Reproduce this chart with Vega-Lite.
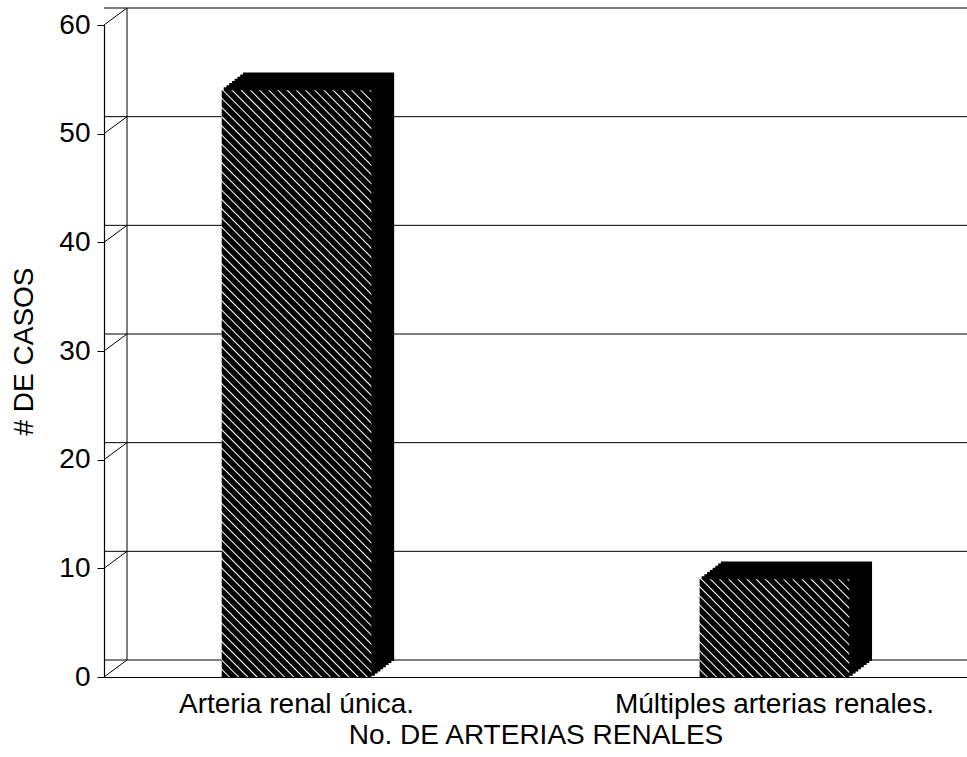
{
"$schema":"https://vega.github.io/schema/vega-lite/v6.json",
"width":863,"height":652,
"autosize":{"type":"none"},
"padding":{"left":104,"top":25,"right":0,"bottom":80},
"background":"white",
"config":{"view":{"stroke":null},"font":"Liberation Sans",
"axis":{"labelFont":"Liberation Sans","titleFont":"Liberation Sans","labelColor":"#000","titleColor":"#000","domainColor":"#000","tickColor":"#000","titleFontWeight":"normal","labelFontSize":28,"titleFontSize":28,"labelLimit":500}},
"datasets":{
"bars":[{"categoria":"Arteria renal única.","casos":54},{"categoria":"Múltiples arterias renales.","casos":9}],
"ticks":[{"v":0},{"v":10},{"v":20},{"v":30},{"v":40},{"v":50},{"v":60}]
},
"layer":[
{"data":{"name":"ticks"},"mark":{"type":"rule","color":"#000","strokeWidth":1,"xOffset":23,"yOffset":-17},
 "encoding":{"y":{"field":"v","type":"quantitative","scale":{"domain":[0,60],"nice":false},
   "axis":{"title":"# DE CASOS","values":[0,10,20,30,40,50,60],"grid":false,"tickSize":7,"labelPadding":7,"titlePadding":20,"domainWidth":1.2}}}},
{"data":{"name":"ticks"},"mark":{"type":"rule","color":"#000","strokeWidth":1,"x2Offset":23,"y2Offset":-17},
 "encoding":{"x":{"value":0},"x2":{"value":0},"y":{"field":"v","type":"quantitative",
   "axis":{"title":"# DE CASOS","values":[0,10,20,30,40,50,60],"grid":false,"tickSize":7,"labelPadding":7,"titlePadding":20,"domainWidth":1.2}},"y2":{"field":"v"}}},
{"data":{"name":"ticks"},"transform":[{"filter":"datum.v == 0"}],"mark":{"type":"rule","color":"#000","strokeWidth":1,"xOffset":23,"yOffset":-17,"y2Offset":-17},
 "encoding":{"x":{"value":0},"y":{"field":"v","type":"quantitative",
   "axis":{"title":"# DE CASOS","values":[0,10,20,30,40,50,60],"grid":false,"tickSize":7,"labelPadding":7,"titlePadding":20,"domainWidth":1.2}},"y2":{"datum":60}}},
{"data":{"name":"bars"},
 "encoding":{
  "x":{"field":"categoria","type":"nominal","sort":null,"scale":{"paddingInner":0.6868,"paddingOuter":0.2463},
   "axis":{"title":"No. DE ARTERIAS RENALES","labelAngle":0,"ticks":false,"tickSize":0,"labelPadding":13,"titlePadding":3,"domainWidth":1.2}},
  "y":{"field":"casos","type":"quantitative","scale":{"domain":[0,60],"nice":false},
   "axis":{"title":"# DE CASOS","values":[0,10,20,30,40,50,60],"grid":false,"tickSize":7,"labelPadding":7,"titlePadding":20,"domainWidth":1.2}}
 },
 "layer":[
  {"mark":{"type":"bar","fill":"#000","stroke":"#000","strokeWidth":1.5,"xOffset":22,"yOffset":-17}},
  {"mark":{"type":"bar","fill":"#000","stroke":"#000","strokeWidth":1.5,"xOffset":19.25,"yOffset":-14.875}},
  {"mark":{"type":"bar","fill":"#000","stroke":"#000","strokeWidth":1.5,"xOffset":16.5,"yOffset":-12.75}},
  {"mark":{"type":"bar","fill":"#000","stroke":"#000","strokeWidth":1.5,"xOffset":13.75,"yOffset":-10.625}},
  {"mark":{"type":"bar","fill":"#000","stroke":"#000","strokeWidth":1.5,"xOffset":11,"yOffset":-8.5}},
  {"mark":{"type":"bar","fill":"#000","stroke":"#000","strokeWidth":1.5,"xOffset":8.25,"yOffset":-6.375}},
  {"mark":{"type":"bar","fill":"#000","stroke":"#000","strokeWidth":1.5,"xOffset":5.5,"yOffset":-4.25}},
  {"mark":{"type":"bar","fill":"#000","stroke":"#000","strokeWidth":1.5,"xOffset":2.75,"yOffset":-2.125}},
  {"transform":[{"filter":{"field":"categoria","equal":"Arteria renal única."}}],
   "mark":{"type":"bar","fill":{"gradient":"linear","x1":0,"y1":1,"x2":0.3013,"y2":-0.1786,"stops":[
{"offset":0,"color":"#000"},{"offset":0.0085,"color":"#000"},{"offset":0.0105,"color":"#fff"},
{"offset":0.0125,"color":"#000"},{"offset":0.021,"color":"#000"},{"offset":0.023,"color":"#fff"},
{"offset":0.025,"color":"#000"},{"offset":0.0335,"color":"#000"},{"offset":0.0355,"color":"#fff"},
{"offset":0.0375,"color":"#000"},{"offset":0.046,"color":"#000"},{"offset":0.048,"color":"#fff"},
{"offset":0.05,"color":"#000"},{"offset":0.0585,"color":"#000"},{"offset":0.0605,"color":"#fff"},
{"offset":0.0625,"color":"#000"},{"offset":0.071,"color":"#000"},{"offset":0.073,"color":"#fff"},
{"offset":0.075,"color":"#000"},{"offset":0.0835,"color":"#000"},{"offset":0.0855,"color":"#fff"},
{"offset":0.0875,"color":"#000"},{"offset":0.096,"color":"#000"},{"offset":0.098,"color":"#fff"},
{"offset":0.1,"color":"#000"},{"offset":0.1085,"color":"#000"},{"offset":0.1105,"color":"#fff"},
{"offset":0.1125,"color":"#000"},{"offset":0.121,"color":"#000"},{"offset":0.123,"color":"#fff"},
{"offset":0.125,"color":"#000"},{"offset":0.1335,"color":"#000"},{"offset":0.1355,"color":"#fff"},
{"offset":0.1375,"color":"#000"},{"offset":0.146,"color":"#000"},{"offset":0.148,"color":"#fff"},
{"offset":0.15,"color":"#000"},{"offset":0.1585,"color":"#000"},{"offset":0.1605,"color":"#fff"},
{"offset":0.1625,"color":"#000"},{"offset":0.171,"color":"#000"},{"offset":0.173,"color":"#fff"},
{"offset":0.175,"color":"#000"},{"offset":0.1835,"color":"#000"},{"offset":0.1855,"color":"#fff"},
{"offset":0.1875,"color":"#000"},{"offset":0.196,"color":"#000"},{"offset":0.198,"color":"#fff"},
{"offset":0.2,"color":"#000"},{"offset":0.2085,"color":"#000"},{"offset":0.2105,"color":"#fff"},
{"offset":0.2125,"color":"#000"},{"offset":0.221,"color":"#000"},{"offset":0.223,"color":"#fff"},
{"offset":0.225,"color":"#000"},{"offset":0.2335,"color":"#000"},{"offset":0.2355,"color":"#fff"},
{"offset":0.2375,"color":"#000"},{"offset":0.246,"color":"#000"},{"offset":0.248,"color":"#fff"},
{"offset":0.25,"color":"#000"},{"offset":0.2585,"color":"#000"},{"offset":0.2605,"color":"#fff"},
{"offset":0.2625,"color":"#000"},{"offset":0.271,"color":"#000"},{"offset":0.273,"color":"#fff"},
{"offset":0.275,"color":"#000"},{"offset":0.2835,"color":"#000"},{"offset":0.2855,"color":"#fff"},
{"offset":0.2875,"color":"#000"},{"offset":0.296,"color":"#000"},{"offset":0.298,"color":"#fff"},
{"offset":0.3,"color":"#000"},{"offset":0.3085,"color":"#000"},{"offset":0.3105,"color":"#fff"},
{"offset":0.3125,"color":"#000"},{"offset":0.321,"color":"#000"},{"offset":0.323,"color":"#fff"},
{"offset":0.325,"color":"#000"},{"offset":0.3335,"color":"#000"},{"offset":0.3355,"color":"#fff"},
{"offset":0.3375,"color":"#000"},{"offset":0.346,"color":"#000"},{"offset":0.348,"color":"#fff"},
{"offset":0.35,"color":"#000"},{"offset":0.3585,"color":"#000"},{"offset":0.3605,"color":"#fff"},
{"offset":0.3625,"color":"#000"},{"offset":0.371,"color":"#000"},{"offset":0.373,"color":"#fff"},
{"offset":0.375,"color":"#000"},{"offset":0.3835,"color":"#000"},{"offset":0.3855,"color":"#fff"},
{"offset":0.3875,"color":"#000"},{"offset":0.396,"color":"#000"},{"offset":0.398,"color":"#fff"},
{"offset":0.4,"color":"#000"},{"offset":0.4085,"color":"#000"},{"offset":0.4105,"color":"#fff"},
{"offset":0.4125,"color":"#000"},{"offset":0.421,"color":"#000"},{"offset":0.423,"color":"#fff"},
{"offset":0.425,"color":"#000"},{"offset":0.4335,"color":"#000"},{"offset":0.4355,"color":"#fff"},
{"offset":0.4375,"color":"#000"},{"offset":0.446,"color":"#000"},{"offset":0.448,"color":"#fff"},
{"offset":0.45,"color":"#000"},{"offset":0.4585,"color":"#000"},{"offset":0.4605,"color":"#fff"},
{"offset":0.4625,"color":"#000"},{"offset":0.471,"color":"#000"},{"offset":0.473,"color":"#fff"},
{"offset":0.475,"color":"#000"},{"offset":0.4835,"color":"#000"},{"offset":0.4855,"color":"#fff"},
{"offset":0.4875,"color":"#000"},{"offset":0.496,"color":"#000"},{"offset":0.498,"color":"#fff"},
{"offset":0.5,"color":"#000"},{"offset":0.5085,"color":"#000"},{"offset":0.5105,"color":"#fff"},
{"offset":0.5125,"color":"#000"},{"offset":0.521,"color":"#000"},{"offset":0.523,"color":"#fff"},
{"offset":0.525,"color":"#000"},{"offset":0.5335,"color":"#000"},{"offset":0.5355,"color":"#fff"},
{"offset":0.5375,"color":"#000"},{"offset":0.546,"color":"#000"},{"offset":0.548,"color":"#fff"},
{"offset":0.55,"color":"#000"},{"offset":0.5585,"color":"#000"},{"offset":0.5605,"color":"#fff"},
{"offset":0.5625,"color":"#000"},{"offset":0.571,"color":"#000"},{"offset":0.573,"color":"#fff"},
{"offset":0.575,"color":"#000"},{"offset":0.5835,"color":"#000"},{"offset":0.5855,"color":"#fff"},
{"offset":0.5875,"color":"#000"},{"offset":0.596,"color":"#000"},{"offset":0.598,"color":"#fff"},
{"offset":0.6,"color":"#000"},{"offset":0.6085,"color":"#000"},{"offset":0.6105,"color":"#fff"},
{"offset":0.6125,"color":"#000"},{"offset":0.621,"color":"#000"},{"offset":0.623,"color":"#fff"},
{"offset":0.625,"color":"#000"},{"offset":0.6335,"color":"#000"},{"offset":0.6355,"color":"#fff"},
{"offset":0.6375,"color":"#000"},{"offset":0.646,"color":"#000"},{"offset":0.648,"color":"#fff"},
{"offset":0.65,"color":"#000"},{"offset":0.6585,"color":"#000"},{"offset":0.6605,"color":"#fff"},
{"offset":0.6625,"color":"#000"},{"offset":0.671,"color":"#000"},{"offset":0.673,"color":"#fff"},
{"offset":0.675,"color":"#000"},{"offset":0.6835,"color":"#000"},{"offset":0.6855,"color":"#fff"},
{"offset":0.6875,"color":"#000"},{"offset":0.696,"color":"#000"},{"offset":0.698,"color":"#fff"},
{"offset":0.7,"color":"#000"},{"offset":0.7085,"color":"#000"},{"offset":0.7105,"color":"#fff"},
{"offset":0.7125,"color":"#000"},{"offset":0.721,"color":"#000"},{"offset":0.723,"color":"#fff"},
{"offset":0.725,"color":"#000"},{"offset":0.7335,"color":"#000"},{"offset":0.7355,"color":"#fff"},
{"offset":0.7375,"color":"#000"},{"offset":0.746,"color":"#000"},{"offset":0.748,"color":"#fff"},
{"offset":0.75,"color":"#000"},{"offset":0.7585,"color":"#000"},{"offset":0.7605,"color":"#fff"},
{"offset":0.7625,"color":"#000"},{"offset":0.771,"color":"#000"},{"offset":0.773,"color":"#fff"},
{"offset":0.775,"color":"#000"},{"offset":0.7835,"color":"#000"},{"offset":0.7855,"color":"#fff"},
{"offset":0.7875,"color":"#000"},{"offset":0.796,"color":"#000"},{"offset":0.798,"color":"#fff"},
{"offset":0.8,"color":"#000"},{"offset":0.8085,"color":"#000"},{"offset":0.8105,"color":"#fff"},
{"offset":0.8125,"color":"#000"},{"offset":0.821,"color":"#000"},{"offset":0.823,"color":"#fff"},
{"offset":0.825,"color":"#000"},{"offset":0.8335,"color":"#000"},{"offset":0.8355,"color":"#fff"},
{"offset":0.8375,"color":"#000"},{"offset":0.846,"color":"#000"},{"offset":0.848,"color":"#fff"},
{"offset":0.85,"color":"#000"},{"offset":0.8585,"color":"#000"},{"offset":0.8605,"color":"#fff"},
{"offset":0.8625,"color":"#000"},{"offset":0.871,"color":"#000"},{"offset":0.873,"color":"#fff"},
{"offset":0.875,"color":"#000"},{"offset":0.8835,"color":"#000"},{"offset":0.8855,"color":"#fff"},
{"offset":0.8875,"color":"#000"},{"offset":0.896,"color":"#000"},{"offset":0.898,"color":"#fff"},
{"offset":0.9,"color":"#000"},{"offset":0.9085,"color":"#000"},{"offset":0.9105,"color":"#fff"},
{"offset":0.9125,"color":"#000"},{"offset":0.921,"color":"#000"},{"offset":0.923,"color":"#fff"},
{"offset":0.925,"color":"#000"},{"offset":0.9335,"color":"#000"},{"offset":0.9355,"color":"#fff"},
{"offset":0.9375,"color":"#000"},{"offset":0.946,"color":"#000"},{"offset":0.948,"color":"#fff"},
{"offset":0.95,"color":"#000"},{"offset":0.9585,"color":"#000"},{"offset":0.9605,"color":"#fff"},
{"offset":0.9625,"color":"#000"},{"offset":0.971,"color":"#000"},{"offset":0.973,"color":"#fff"},
{"offset":0.975,"color":"#000"},{"offset":0.9835,"color":"#000"},{"offset":0.9855,"color":"#fff"},
{"offset":0.9875,"color":"#000"},{"offset":0.996,"color":"#000"},{"offset":0.998,"color":"#fff"},
{"offset":1,"color":"#000"}]}}},
  {"transform":[{"filter":{"field":"categoria","equal":"Múltiples arterias renales."}}],
   "mark":{"type":"bar","fill":{"gradient":"linear","x1":0,"y1":1,"x2":1.1592,"y2":0.2442,"stops":[
{"offset":0,"color":"#000"},{"offset":0.0252,"color":"#000"},{"offset":0.0311,"color":"#fff"},
{"offset":0.03704,"color":"#000"},{"offset":0.0622,"color":"#000"},{"offset":0.0681,"color":"#fff"},
{"offset":0.07407,"color":"#000"},{"offset":0.0993,"color":"#000"},{"offset":0.1052,"color":"#fff"},
{"offset":0.11111,"color":"#000"},{"offset":0.1363,"color":"#000"},{"offset":0.1422,"color":"#fff"},
{"offset":0.14815,"color":"#000"},{"offset":0.1733,"color":"#000"},{"offset":0.1792,"color":"#fff"},
{"offset":0.18519,"color":"#000"},{"offset":0.2104,"color":"#000"},{"offset":0.2163,"color":"#fff"},
{"offset":0.22222,"color":"#000"},{"offset":0.2474,"color":"#000"},{"offset":0.2533,"color":"#fff"},
{"offset":0.25926,"color":"#000"},{"offset":0.2845,"color":"#000"},{"offset":0.2904,"color":"#fff"},
{"offset":0.2963,"color":"#000"},{"offset":0.3215,"color":"#000"},{"offset":0.3274,"color":"#fff"},
{"offset":0.33333,"color":"#000"},{"offset":0.3585,"color":"#000"},{"offset":0.3644,"color":"#fff"},
{"offset":0.37037,"color":"#000"},{"offset":0.3956,"color":"#000"},{"offset":0.4015,"color":"#fff"},
{"offset":0.40741,"color":"#000"},{"offset":0.4326,"color":"#000"},{"offset":0.4385,"color":"#fff"},
{"offset":0.44444,"color":"#000"},{"offset":0.4696,"color":"#000"},{"offset":0.4755,"color":"#fff"},
{"offset":0.48148,"color":"#000"},{"offset":0.5067,"color":"#000"},{"offset":0.5126,"color":"#fff"},
{"offset":0.51852,"color":"#000"},{"offset":0.5437,"color":"#000"},{"offset":0.5496,"color":"#fff"},
{"offset":0.55556,"color":"#000"},{"offset":0.5808,"color":"#000"},{"offset":0.5867,"color":"#fff"},
{"offset":0.59259,"color":"#000"},{"offset":0.6178,"color":"#000"},{"offset":0.6237,"color":"#fff"},
{"offset":0.62963,"color":"#000"},{"offset":0.6548,"color":"#000"},{"offset":0.6607,"color":"#fff"},
{"offset":0.66667,"color":"#000"},{"offset":0.6919,"color":"#000"},{"offset":0.6978,"color":"#fff"},
{"offset":0.7037,"color":"#000"},{"offset":0.7289,"color":"#000"},{"offset":0.7348,"color":"#fff"},
{"offset":0.74074,"color":"#000"},{"offset":0.7659,"color":"#000"},{"offset":0.7718,"color":"#fff"},
{"offset":0.77778,"color":"#000"},{"offset":0.803,"color":"#000"},{"offset":0.8089,"color":"#fff"},
{"offset":0.81481,"color":"#000"},{"offset":0.84,"color":"#000"},{"offset":0.8459,"color":"#fff"},
{"offset":0.85185,"color":"#000"},{"offset":0.8771,"color":"#000"},{"offset":0.883,"color":"#fff"},
{"offset":0.88889,"color":"#000"},{"offset":0.9141,"color":"#000"},{"offset":0.92,"color":"#fff"},
{"offset":0.92593,"color":"#000"},{"offset":0.9511,"color":"#000"},{"offset":0.957,"color":"#fff"},
{"offset":0.96296,"color":"#000"},{"offset":0.9882,"color":"#000"},{"offset":0.9941,"color":"#fff"},
{"offset":1,"color":"#000"}]}}}
 ]}
]
}
